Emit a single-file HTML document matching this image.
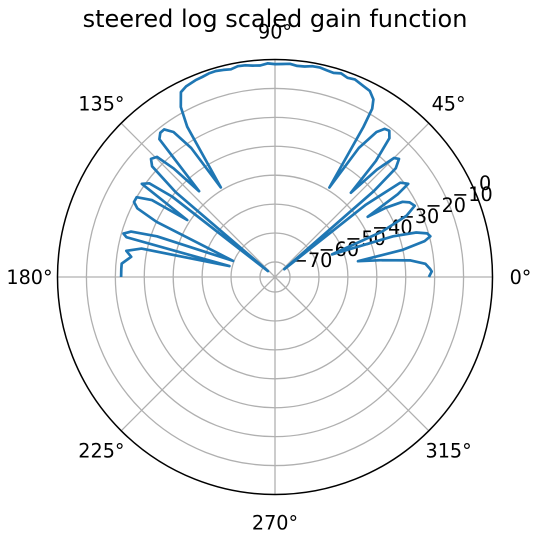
<!DOCTYPE html>
<html><head><meta charset="utf-8"><style>
html,body{margin:0;padding:0;background:#fff;}
svg{display:block;font-family:"DejaVu Sans","Liberation Sans",sans-serif;}
</style></head><body>
<svg id="chart" width="555" height="546" viewBox="0 0 555 546">
<text x="275" y="27" font-size="24" text-anchor="middle">steered log scaled gain function</text>
<g id="grid"></g>
<g id="labels"></g>
<g id="series"></g>
</svg>
<script>
const angleDeg = [0,2,3,5,7,9,10.8,12,13.5,14.7,16,17.5,19,21.6,23,25,27,29,30.5,32,33,34,35,36,37,38.5,40,41,42,43.6,45,46.5,48,49,50.5,52,53.5,55,57,58.7,59.5,60,61,63,65,68,70,72,74,76,78,80,82,84,86,88,90,92,94,96,98,100,102,104,106,108,110,112,115,117,119,120.3,121.2,123,125,126.9,128.5,130,131.5,133,134.5,136.4,138,139.5,140.5,142,143.3,145,147,148,150,152,153.5,155,159,161,162.5,164,165,166.5,168,170,172,175,177,180];
const gainDb = [-22,-21,-21.5,-23,-28,-38,-46,-30,-22,-19.7,-20.5,-24,-32,-54,-35,-25,-21,-22,-24,-30,-37,-24,-19,-20,-21,-35,-71,-30,-19,-16,-17,-24,-36,-22,-13,-11,-11.5,-14,-22,-39,-15,-8,-5,-3,-2.5,-1.5,-1.9,-1.2,-1.8,-1.5,-1.1,-1.2,-1.7,-1.8,-1.3,-1.5,-1.6,-1.3,-1.9,-1.7,-1.3,-1.2,-1.8,-1.4,-1.1,-1.2,-1.6,-1.8,-2.5,-3.5,-8,-15,-39,-22,-14,-11.4,-11.5,-13,-35.6,-24,-17,-16,-18,-30,-72,-30,-21,-19,-39,-25,-20,-20,-22,-30,-59.7,-32,-23,-20.7,-22,-59,-28,-23,-25,-22,-22,-22];
const radialTicks = [-70,-60,-50,-40,-30,-20,-10,0];
const angleTicks = [0,45,90,135,180,225,270,315];

const NS="http://www.w3.org/2000/svg";
const cx=275, cy=277, R=217.5, rMin=-75.2, rMax=0;
function rScale(v){return (v-rMin)/(rMax-rMin)*R;}
function px(a,v){const t=a*Math.PI/180, r=rScale(v);return [cx+r*Math.cos(t), cy-r*Math.sin(t)];}
function mk(tag,attrs,parent){const e=document.createElementNS(NS,tag);for(const k in attrs)e.setAttribute(k,attrs[k]);parent.appendChild(e);return e;}

const grid=document.getElementById('grid');
radialTicks.forEach(v=>{
  if(v===0)return;
  const c=mk('circle',{cx:cx,cy:cy,r:rScale(v),fill:'none',stroke:'#b0b0b0','stroke-width':1.3},grid);
  
  
});
angleTicks.forEach(a=>{
  const [x,y]=px(a,rMax);
  const l=mk('line',{x1:cx,y1:cy,x2:x,y2:y,stroke:'#b0b0b0','stroke-width':1.3},grid);
  
  
});
const spine=mk('circle',{cx:cx,cy:cy,r:R,fill:'none',stroke:'#000','stroke-width':1.5},grid);



const labels=document.getElementById('labels');
angleTicks.forEach(a=>{
  const t=a*Math.PI/180, r=R+28;
  const tx=mk('text',{x:cx+r*Math.cos(t),y:cy-r*Math.sin(t)+7,'font-size':19.2,'text-anchor':'middle'},labels);
  tx.textContent=a+'°';
  
  
});

const series=document.getElementById('series');
let d='';
angleDeg.forEach((a,i)=>{const [x,y]=px(a,gainDb[i]);d+=(i?'L':'M')+x.toFixed(1)+','+y.toFixed(1);});
const p=mk('path',{d:d,fill:'none',stroke:'#1f77b4','stroke-width':2.7,'stroke-linejoin':'round'},series);



radialTicks.forEach(v=>{
  const [x,y]=px(22.5,v);
  const tx=mk('text',{x:x+3,y:y-4,'font-size':19.2,'text-anchor':'start'},labels);
  tx.textContent=(v<0?'\u2212'+(-v):String(v));
  
  
});
</script>
</body></html>
